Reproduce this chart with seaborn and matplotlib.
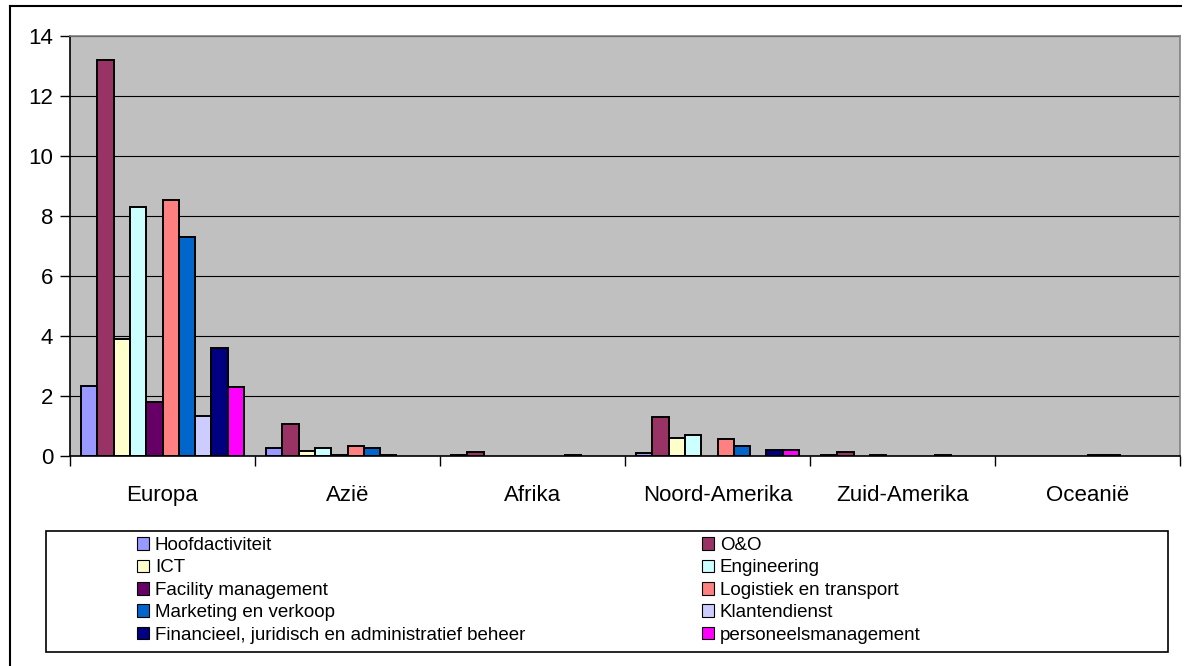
import matplotlib
matplotlib.use("Agg")
import matplotlib.pyplot as plt
from matplotlib.patches import Patch, Rectangle
from matplotlib.lines import Line2D
import seaborn as sns
import pandas as pd

# Regions on the x axis
regions = ["Europa", "Azië", "Afrika", "Noord-Amerika", "Zuid-Amerika", "Oceanië"]

# Activities (hue) and their colours
activities = [
    "Hoofdactiviteit", "O&O", "ICT", "Engineering", "Facility management",
    "Logistiek en transport", "Marketing en verkoop", "Klantendienst",
    "Financieel, juridisch en administratief beheer", "personeelsmanagement",
]
colors = ["#9999FF", "#993366", "#FFFFCC", "#CCFFFF", "#660066",
          "#FF8080", "#0066CC", "#CCCCFF", "#000080", "#FF00FF"]

# Values per activity, one per region
hoofdactiviteit = [2.35, 0.28, 0.04, 0.10, 0.04, 0.0]
o_en_o = [13.2, 1.07, 0.15, 1.31, 0.13, 0.0]
ict = [3.9, 0.18, 0.0, 0.60, 0.0, 0.0]
engineering = [8.3, 0.28, 0.0, 0.71, 0.04, 0.0]
facility = [1.8, 0.04, 0.0, 0.0, 0.0, 0.0]
logistiek = [8.55, 0.34, 0.0, 0.56, 0.0, 0.04]
marketing = [7.3, 0.28, 0.0, 0.33, 0.0, 0.04]
klantendienst = [1.35, 0.04, 0.04, 0.0, 0.04, 0.0]
financieel = [3.6, 0.0, 0.0, 0.19, 0.0, 0.0]
personeel = [2.3, 0.0, 0.0, 0.19, 0.0, 0.0]

series = [hoofdactiviteit, o_en_o, ict, engineering, facility,
          logistiek, marketing, klantendienst, financieel, personeel]

y_ticks = [0, 2, 4, 6, 8, 10, 12, 14]

rows = []
for act, vals in zip(activities, series):
    for reg, v in zip(regions, vals):
        rows.append({"regio": reg, "activiteit": act, "waarde": v})
df = pd.DataFrame(rows)

W, H = 1187, 666
fig = plt.figure(figsize=(W / 100, H / 100), dpi=100)
fig.patch.set_facecolor("white")

ax = fig.add_axes([70 / W, 1 - 456 / H, 1110 / W, 420 / H])
ax.set_facecolor("#C0C0C0")

palette = dict(zip(activities, colors))
sns.barplot(data=df, x="regio", y="waarde", hue="activiteit",
            order=regions, hue_order=activities, palette=palette,
            edgecolor="black", linewidth=1.4, width=0.88, gap=0,
            errorbar=None, legend=False, saturation=1, ax=ax)

# Hide empty bars so they leave no outline on the baseline
for p in ax.patches:
    if p.get_height() == 0:
        p.set_visible(False)

ax.set_ylim(0, 14)
ax.set_xlim(-0.5, len(regions) - 0.5)
ax.set_yticks(y_ticks)
ax.set_yticklabels([str(t) for t in y_ticks])
ax.yaxis.grid(True, color="black", linewidth=0.8)
ax.set_axisbelow(True)

# Category separators as major ticks, labels at the centres
ax.set_xticks([i - 0.5 for i in range(len(regions) + 1)])
ax.set_xticklabels([])
ax.set_xticks(range(len(regions)), minor=True)
ax.set_xticklabels(regions, minor=True)
ax.tick_params(axis="x", which="major", length=7, width=1.0, color="black", direction="out")
ax.tick_params(axis="x", which="minor", length=0, pad=21, labelsize=16)
ax.tick_params(axis="y", length=7, width=1.0, direction="out", pad=5, labelsize=16)
ax.set_xlabel("")
ax.set_ylabel("")

for side in ["left", "bottom"]:
    ax.spines[side].set_color("black")
    ax.spines[side].set_linewidth(1.2)
for side in ["top", "right"]:
    ax.spines[side].set_color("#808080")
    ax.spines[side].set_linewidth(1.2)

for lab in ax.get_xticklabels(minor=True) + ax.get_yticklabels():
    lab.set_fontfamily("Liberation Sans")

# Outer chart frame
fig.add_artist(Line2D([10 / W, 10 / W], [0, 1 - 6 / H], transform=fig.transFigure,
                      color="black", linewidth=1.5))
fig.add_artist(Line2D([10 / W, 1181 / W], [1 - 6 / H, 1 - 6 / H], transform=fig.transFigure,
                      color="black", linewidth=1.5))

# Legend box
fig.add_artist(Rectangle((46 / W, 1 - 652 / H), (1168 - 46) / W, (652 - 531) / H,
                         transform=fig.transFigure, facecolor="white",
                         edgecolor="black", linewidth=1.2))

handles = [Patch(facecolor=c, edgecolor="black", linewidth=0.8) for c in colors]
left_idx = [0, 2, 4, 6, 8]
right_idx = [1, 3, 5, 7, 9]
for idx, x0 in [(left_idx, 137), (right_idx, 702)]:
    fig.legend([handles[i] for i in idx], [activities[i] for i in idx],
               loc="upper left", bbox_to_anchor=(x0 / W, 1 - 537 / H),
               frameon=False, prop={"family": "Liberation Sans", "size": 13.5},
               handlelength=0.65, handleheight=0.65, handletextpad=0.3,
               labelspacing=0.29, borderpad=0.0, borderaxespad=0.0)

fig.savefig("out.png", dpi=100)
